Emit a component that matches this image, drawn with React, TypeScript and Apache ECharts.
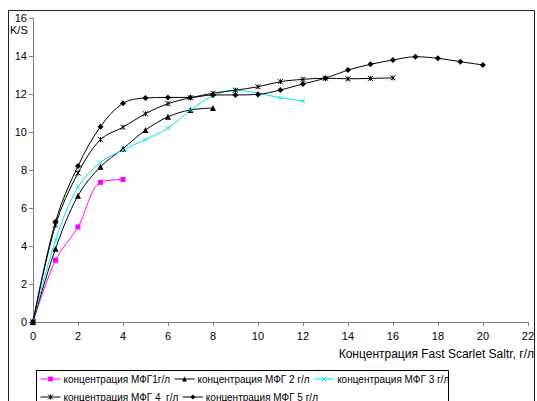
import React, { useEffect, useRef } from "react";
import * as echarts from "echarts";

const xs1 = [0, 1, 2, 3, 4];
const ys1 = [0, 3.25, 5.0, 7.35, 7.5];
const xs2 = [0, 1, 2, 3, 4, 5, 6, 7, 8];
const ys2 = [0, 3.85, 6.65, 8.17, 9.12, 10.1, 10.8, 11.16, 11.26];
const xs3 = [0, 1, 2, 3, 4, 5, 6, 7, 8, 9, 10, 11, 12];
const ys3 = [0, 4.3, 7.1, 8.4, 9.05, 9.6, 10.2, 11.15, 11.9, 12.2, 12.04, 11.8, 11.63];
const xs4 = [0, 1, 2, 3, 4, 5, 6, 7, 8, 9, 10, 11, 12, 13, 14, 15, 16];
const ys4 = [0, 5.1, 7.84, 9.6, 10.25, 10.96, 11.49, 11.8, 12.04, 12.2, 12.38, 12.65, 12.77, 12.83, 12.8, 12.82, 12.85];
const xs5 = [0, 1, 2, 3, 4, 5, 6, 7, 8, 9, 10, 11, 12, 13, 14, 15, 16, 17, 18, 19, 20];
const ys5 = [0, 5.28, 8.21, 10.28, 11.51, 11.79, 11.82, 11.82, 11.95, 11.95, 11.98, 12.21, 12.53, 12.83, 13.26, 13.56, 13.79, 13.96, 13.88, 13.7, 13.53];

const names = [
  "концентрация МФГ1г/л",
  "концентрация МФГ 2 г/л",
  "концентрация МФГ 3 г/л",
  "концентрация МФГ 4  г/л",
  "концентрация МФГ 5 г/л",
];

const xTicks = { min: 0, max: 22, interval: 2 };
const yTicks = { min: 0, max: 16, interval: 2 };
const yName = "K/S";
const xName = "Концентрация Fast Scarlet Saltr, г/л";

const FONT = "'Liberation Sans', Arial, sans-serif";

function pts(xs: number[], ys: number[]) {
  return xs.map((x, i) => [x, ys[i]]);
}

export default function App() {
  const ref = useRef<HTMLDivElement>(null);
  useEffect(() => {
    if (!ref.current) return;
    const chart = echarts.init(ref.current, undefined, { renderer: "svg" });
    const base = {
      type: "line" as const,
      smooth: 0.35,
      showAllSymbol: true,
      z: 3,
    };
    const crossPath = "path://M0,0L10,10M10,0L0,10";
    const starPath = "path://M0,0L10,10M10,0L0,10M5,0L5,10";
    const legendCommon = {
      left: 40,
      itemWidth: 20,
      itemHeight: 6,
      itemGap: 4,
      padding: 0,
      itemStyle: { borderWidth: 1 },
      lineStyle: { width: 1 },
      textStyle: { fontSize: 10, color: "#000", fontFamily: FONT, width: 112, padding: [0, 0, 0, -2] },
    };
    chart.setOption({
      animation: false,
      backgroundColor: "#fff",
      textStyle: { fontFamily: FONT },
      grid: { left: 33, right: 5, top: 18, bottom: 79, containLabel: false },
      xAxis: {
        type: "value",
        min: xTicks.min,
        max: xTicks.max,
        interval: xTicks.interval,
        splitLine: { show: false },
        axisLine: { lineStyle: { color: "#808080", width: 1 } },
        axisTick: { show: true, length: 4, lineStyle: { color: "#808080" } },
        axisLabel: { color: "#000", fontSize: 11, fontFamily: FONT, margin: 8 },
      },
      yAxis: {
        type: "value",
        min: yTicks.min,
        max: yTicks.max,
        interval: yTicks.interval,
        splitLine: { show: false },
        axisLine: { show: true, lineStyle: { color: "#808080", width: 1 } },
        axisTick: { show: true, length: 4, lineStyle: { color: "#808080" } },
        axisLabel: { color: "#000", fontSize: 11, fontFamily: FONT, margin: 6 },
      },
      legend: [
        { ...legendCommon, data: [names[0], names[1], names[2]], top: 374 },
        { ...legendCommon, data: [names[3], names[4]], top: 392 },
      ],
      graphic: [
        {
          type: "rect",
          shape: { x: 8.5, y: 10.5, width: 526, height: 400 },
          style: { fill: "none", stroke: "#222", lineWidth: 1 },
          silent: true,
          z: -1,
        },
        {
          type: "rect",
          shape: { x: 36.5, y: 370.5, width: 412, height: 40 },
          style: { fill: "none", stroke: "#000", lineWidth: 1 },
          silent: true,
        },
        {
          type: "text",
          x: 10,
          y: 24,
          style: { text: yName, fontSize: 11, fontFamily: FONT, fill: "#000" },
        },
        {
          type: "text",
          x: 534,
          y: 348,
          style: { text: xName, fontSize: 12, fontFamily: FONT, fill: "#000", align: "right" },
        },
      ],
      series: [
        {
          ...base,
          name: names[0],
          data: pts(xs1, ys1),
          symbol: "rect",
          symbolSize: 5,
          lineStyle: { color: "#ff00ff", width: 1 },
          itemStyle: { color: "#ff00ff" },
        },
        {
          ...base,
          name: names[1],
          data: pts(xs2, ys2),
          symbol: "triangle",
          symbolSize: 6,
          lineStyle: { color: "#000", width: 1 },
          itemStyle: { color: "#000" },
        },
        {
          ...base,
          name: names[2],
          data: pts(xs3, ys3),
          symbol: crossPath,
          symbolSize: 4,
          lineStyle: { color: "#00e5ee", width: 1 },
          itemStyle: { color: "#00e5ee", borderColor: "#00e5ee", borderWidth: 1 },
        },
        {
          ...base,
          name: names[3],
          data: pts(xs4, ys4),
          symbol: starPath,
          symbolSize: 5,
          lineStyle: { color: "#000", width: 1 },
          itemStyle: { color: "#000", borderColor: "#000", borderWidth: 1 },
        },
        {
          ...base,
          name: names[4],
          data: pts(xs5, ys5),
          symbol: "diamond",
          symbolSize: 6,
          lineStyle: { color: "#000", width: 1 },
          itemStyle: { color: "#000" },
        },
      ],
    });
    return () => chart.dispose();
  }, []);
  return (
    <div
      ref={ref}
      style={{ position: "fixed", left: 0, top: 0, width: 537, height: 401, background: "#fff" }}
    />
  );
}
